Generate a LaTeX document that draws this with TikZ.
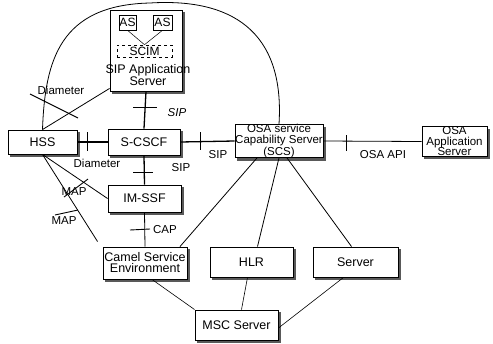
\documentclass[tikz,border=0pt]{standalone}
\usepackage{fontspec}
\setmainfont{Liberation Sans}
\usetikzlibrary{shadows}
\begin{document}
\begin{tikzpicture}[x=1pt,y=-1pt,
  box/.style={draw, line width=0.9pt, fill=white, rectangle, inner sep=0pt, align=center,
    font=\fontsize{12.5}{11}\selectfont,
    copy shadow={shadow xshift=2.5pt, shadow yshift=-2.5pt, fill=black!65, draw=black!65}},
  small/.style={draw, line width=0.6pt, fill=white, rectangle, inner sep=0pt, font=\fontsize{12}{11}\selectfont},
  txt/.style={inner sep=0pt, align=center, font=\fontsize{12.5}{12}\selectfont},
  lbl/.style={inner sep=0pt, font=\fontsize{11.5}{11}\selectfont},
  conn/.style={line width=0.8pt},
  thickconn/.style={line width=1.3pt},
  tick/.style={line width=0.9pt}]
\useasboundingbox (0,0) rectangle (493,343);

% boxes
\node[box, minimum width=72pt, minimum height=81pt] (sipas) at (146,50.5) {};
\node[small, minimum width=17pt, minimum height=15pt] (as1) at (127.5,22.5) {AS};
\node[small, minimum width=19pt, minimum height=15pt] (as2) at (162.5,22.5) {AS};
\node[small, dashed, minimum width=55pt, minimum height=12pt] (scim) at (144.5,51) {SCIM};
\node[txt] (sipastxt) at (148,75) {SIP Application\\Server};

\node[box, minimum width=69pt, minimum height=24pt] (hss) at (42.5,142) {HSS};
\node[box, minimum width=72pt, minimum height=26pt] (scscf) at (144,142) {S-CSCF};
\node[box, minimum width=88pt, minimum height=30pt, font=\fontsize{11.5}{10.5}\selectfont] (scs) at (279,141) {OSA service\\Capability Server\\(SCS)};
\node[box, minimum width=65pt, minimum height=27pt, font=\fontsize{11.5}{10.5}\selectfont] (osaas) at (454.5,141.5) {OSA\\Application\\Server};
\node[box, minimum width=73pt, minimum height=27pt] (imssf) at (144.5,198.5) {IM-SSF};
\node[box, minimum width=84pt, minimum height=32pt] (camel) at (145,263) {Camel Service\\Environment};
\node[box, minimum width=83pt, minimum height=30pt] (hlr) at (251.5,262) {HLR};
\node[box, minimum width=85pt, minimum height=30pt] (server) at (355.5,262) {Server};
\node[box, minimum width=83pt, minimum height=30pt] (msc) at (236.5,325) {MSC Server};

% connectors inside SIP AS
\draw[line width=0.5pt] (as1.south) -- (scim.north);
\draw[line width=0.5pt] (as2.south) -- (scim.north);

% big curve HSS -> SCS
\draw[conn] (hss.north) .. controls (45,60) and (60,5) .. (150,3)
  .. controls (230,-2) and (285,30) .. (scs.north);

% HSS - SIP AS (Diameter)
\draw[conn] (hss.north) -- ([yshift=3pt]sipas.south west);
\coordinate (d1a) at (30,94);
\coordinate (d1b) at (78,118);
\draw[tick] (d1a) -- (d1b);
\node[lbl] (diam1) at (61,90) {Diameter};

% HSS - S-CSCF
\draw[thickconn] (hss.east) -- (scscf.west);
\coordinate (t1a) at (87,132);
\coordinate (t1b) at (87,151);
\draw[tick] (t1a) -- (t1b);
\node[lbl] (diam2) at (97,163) {Diameter};

% SIP AS - S-CSCF
\draw[thickconn] (sipas.south) -- (scscf.north);
\coordinate (t2a) at (133,107);
\coordinate (t2b) at (157,107);
\draw[tick] (t2a) -- (t2b);
\node[lbl, font=\fontsize{11.5}{11}\itshape] (sip1) at (177,113) {SIP};

% S-CSCF - SCS
\draw[thickconn] (scscf.east) -- (scs.west);
\coordinate (t3a) at (200,132);
\coordinate (t3b) at (200,150);
\draw[tick] (t3a) -- (t3b);
\node[lbl] (sip2) at (218,155) {SIP};

% SCS - OSA AS
\draw[conn] (scs.east) -- (osaas.west);
\coordinate (t4a) at (346,135);
\coordinate (t4b) at (346,151);
\draw[line width=0.5pt] (t4a) -- (t4b);
\node[lbl] (osaapi) at (383,155) {OSA API};

% S-CSCF - IM-SSF
\draw[thickconn] (scscf.south) -- (imssf.north);
\coordinate (t5a) at (133,172);
\coordinate (t5b) at (153,172);
\draw[tick] (t5a) -- (t5b);
\node[lbl] (sip3) at (181,168) {SIP};

% HSS - IM-SSF (MAP)
\draw[conn] (hss.south) -- (imssf.west);
\coordinate (t6a) at (64,197);
\coordinate (t6b) at (88,179);
\draw[tick] (t6a) -- (t6b);
\node[lbl] (map1) at (74,192) {MAP};

% HSS - Camel (MAP)
\draw[conn] (hss.south) -- ([xshift=-5pt,yshift=5pt]camel.north west);
\coordinate (t7a) at (55,215);
\coordinate (t7b) at (78,210);
\draw[tick] (t7a) -- (t7b);
\node[lbl] (map2) at (64,221) {MAP};

% IM-SSF - Camel (CAP)
\draw[conn] (imssf.south) -- (camel.north);
\coordinate (t8a) at (130,230);
\coordinate (t8b) at (150,229);
\draw[tick] (t8a) -- (t8b);
\node[lbl] (cap) at (165,230) {CAP};

% SCS - others
\draw[conn] ([xshift=-22pt]scs.south) -- ([xshift=35pt]camel.north);
\draw[conn] (scs.south) -- ([xshift=6pt]hlr.north);
\draw[conn] ([xshift=8pt]scs.south) -- ([xshift=-4pt]server.north);

% MSC
\draw[line width=0.6pt] ([xshift=7pt]camel.south) -- (msc.north west);
\draw[line width=0.6pt] ([xshift=-4pt]hlr.south) -- ([xshift=5pt]msc.north);
\draw[line width=0.6pt] ([xshift=-12pt]server.south) -- ([yshift=-3pt]msc.east);
\end{tikzpicture}
\end{document}
